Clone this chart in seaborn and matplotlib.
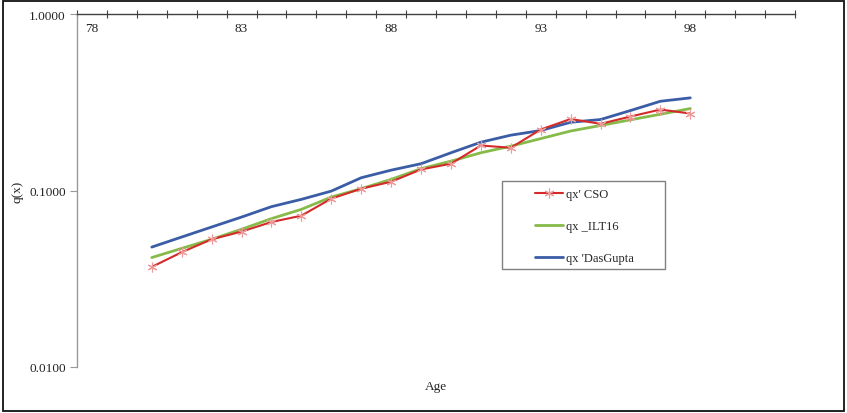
import numpy as np
import pandas as pd
import matplotlib
matplotlib.use("Agg")
import matplotlib.pyplot as plt
import seaborn as sns
from matplotlib.ticker import FixedLocator, FuncFormatter, NullLocator
from matplotlib.patches import Rectangle

# ---- data ----
ages = list(range(80, 99))
qx_cso = [0.0369, 0.0447, 0.0529, 0.0585, 0.0663, 0.0720, 0.0899, 0.1024, 0.1121, 0.1316,
          0.1418, 0.1799, 0.1746, 0.2216, 0.2541, 0.2386, 0.2625, 0.2875, 0.2730]
qx_ilt16 = [0.0417, 0.0470, 0.0529, 0.0603, 0.0693, 0.0782, 0.0918, 0.1024, 0.1156, 0.1329,
            0.1466, 0.1636, 0.1783, 0.1968, 0.2173, 0.2335, 0.2515, 0.2704, 0.2913]
qx_dasgupta = [0.0478, 0.0545, 0.0621, 0.0707, 0.0810, 0.0891, 0.0992, 0.1181, 0.1304, 0.1418,
               0.1636, 0.1878, 0.2058, 0.2187, 0.2436, 0.2524, 0.2838, 0.3203, 0.3348]
series_names = ["qx' CSO", "qx _ILT16", "qx 'DasGupta"]
x_tick_labels = [78, 83, 88, 93, 98]
y_ticks = [0.01, 0.1, 1.0]

sns.set_theme(style="white")
plt.rcParams["font.family"] = ["Liberation Serif", "DejaVu Serif"]

df = pd.DataFrame({
    "Age": ages * 3,
    "qx": qx_cso + qx_ilt16 + qx_dasgupta,
    "series": [series_names[0]] * len(ages) + [series_names[1]] * len(ages) + [series_names[2]] * len(ages),
})

fig = plt.figure(figsize=(8.47, 4.14), dpi=100)
ax = fig.add_axes([77 / 847, 1 - 368 / 414, (795 - 77) / 847, (368 - 15) / 414])

colors = {series_names[0]: "#d42a2a", series_names[1]: "#86bb4a", series_names[2]: "#3b5da6"}

sns.lineplot(data=df[df.series == series_names[0]], x="Age", y="qx", ax=ax,
             color=colors[series_names[0]], lw=1.5, marker=(6, 2, 0), markersize=7,
             markeredgecolor="#ee9a9a", markeredgewidth=0.8, label=series_names[0], zorder=4)
sns.lineplot(data=df[df.series == series_names[1]], x="Age", y="qx", ax=ax,
             color=colors[series_names[1]], lw=2.0, label=series_names[1], zorder=3)
sns.lineplot(data=df[df.series == series_names[2]], x="Age", y="qx", ax=ax,
             color=colors[series_names[2]], lw=2.0, label=series_names[2], zorder=3)

ax.set_yscale("log")
ax.set_ylim(0.01, 1.0)
ax.set_xlim(77.5, 101.5)
ax.yaxis.set_major_locator(FixedLocator(y_ticks))
ax.yaxis.set_minor_locator(NullLocator())
ax.yaxis.set_major_formatter(FuncFormatter(lambda v, p: f"{v:.4f}"))

ax.xaxis.set_major_locator(FixedLocator(x_tick_labels))
ax.xaxis.set_minor_locator(FixedLocator(np.arange(77.5, 102, 1.0)))
ax.tick_params(axis="x", which="major", top=True, bottom=False, labeltop=True,
               labelbottom=False, length=0, pad=-14.5, labelsize=9.5, labelcolor="#222222")
ax.tick_params(axis="x", which="minor", top=True, bottom=False, direction="inout",
               length=6, width=0.8, color="#404040")
ax.tick_params(axis="y", which="major", left=True, direction="out", length=5, width=0.8,
               color="#999999", labelsize=9.5, pad=3, labelcolor="#222222")

for s in ["right", "bottom"]:
    ax.spines[s].set_visible(False)
ax.spines["top"].set_color("#404040")
ax.spines["top"].set_linewidth(1.0)
ax.spines["left"].set_color("#999999")
ax.spines["left"].set_linewidth(1.0)

ax.set_xlabel("Age", fontsize=9.5, labelpad=3, color="#222222")
ax.xaxis.set_label_position("bottom")
ax.set_ylabel("q(x)", fontsize=9.5, labelpad=4, color="#222222")

# legend box
ax.add_patch(Rectangle((0.592, 0.278), 0.227, 0.249, transform=ax.transAxes,
                       fill=False, edgecolor="#808080", lw=1.0, zorder=5))
ax.legend(loc="upper left", bbox_to_anchor=(0.638, 0.507), frameon=False, fontsize=9,
          borderpad=0, borderaxespad=0, handlelength=2.2, handletextpad=0.3, labelspacing=1.6)

fig.add_artist(Rectangle((0.003, 0.005), 0.994, 0.99, transform=fig.transFigure,
                         fill=False, edgecolor="#111111", lw=1.3))

fig.savefig("out.png", dpi=100)
